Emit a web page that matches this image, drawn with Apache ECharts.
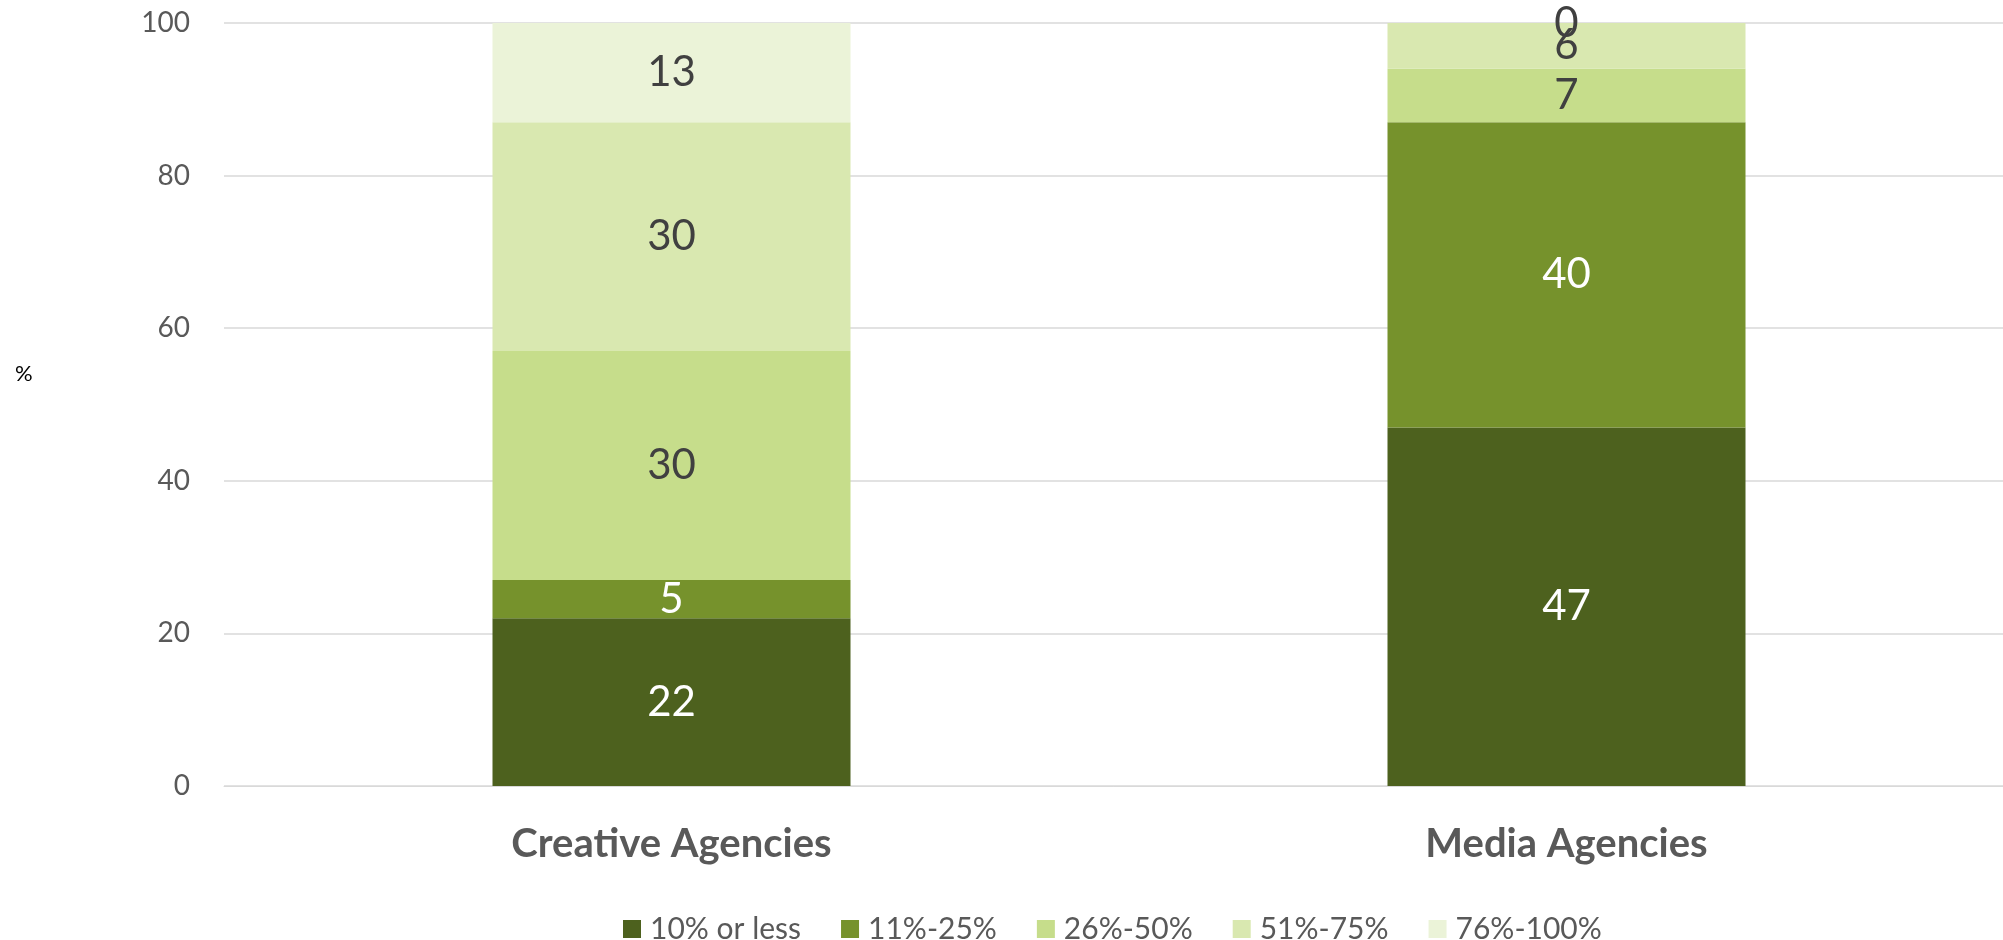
<!DOCTYPE html>
<html>
<head>
<meta charset="utf-8">
<script src="https://cdn.jsdelivr.net/npm/echarts@6/dist/echarts.min.js"></script>
<style>
  html, body { margin: 0; padding: 0; background: #fff; }
  #chart { width: 2003px; height: 940px; }
</style>
</head>
<body>
<div id="chart"></div>
<script>
// agencies on the x axis
const categories = ['Creative Agencies', 'Media Agencies']
// share bands, bottom to top
const bands = ['10% or less', '11%-25%', '26%-50%', '51%-75%', '76%-100%']
const tenOrLess = [22, 47]
const elevenTo25 = [5, 40]
const twentySixTo50 = [30, 7]
const fiftyOneTo75 = [30, 6]
const seventySixTo100 = [13, 0]
const yTicks = [0, 20, 40, 60, 80, 100]

const colors = ['#4d611e', '#76922c', '#c6dd8b', '#d9e8b0', '#ebf3d8']
const labelColors = ['#ffffff', '#ffffff', '#404040', '#404040', '#404040']
const values = [tenOrLess, elevenTo25, twentySixTo50, fiftyOneTo75, seventySixTo100]

const chart = echarts.init(document.getElementById('chart'))

chart.setOption({
  animation: false,
  textStyle: { fontFamily: 'Lato' },
  color: colors,
  grid: {
    left: 224,
    top: 23,
    width: 1790,
    height: 763,
    outerBoundsMode: 'none'
  },
  legend: {
    top: 909,
    left: 618,
    itemWidth: 18,
    itemHeight: 18,
    itemGap: 40,
    icon: 'rect',
    textStyle: { fontSize: 30, color: '#595959', fontFamily: 'Lato', padding: [0, 0, 0, 4] },
    data: bands
  },
  graphic: [{
    type: 'text',
    left: 15,
    top: 363,
    style: { text: '%', fontSize: 22, fill: '#000', fontFamily: 'Lato' }
  }],
  xAxis: {
    type: 'category',
    data: categories,
    axisTick: { show: false },
    axisLine: { lineStyle: { color: '#d9d9d9' } },
    axisLabel: {
      fontSize: 40,
      fontWeight: 'bold',
      color: '#595959',
      margin: 38
    }
  },
  yAxis: {
    type: 'value',
    min: 0,
    max: yTicks[yTicks.length - 1],
    interval: 20,
    axisLine: { show: false },
    axisTick: { show: false },
    axisLabel: { fontSize: 28, color: '#595959', margin: 34 },
    splitLine: { lineStyle: { color: '#d9d9d9', width: 1.5 } }
  },
  series: bands.map((name, i) => ({
    name: name,
    type: 'bar',
    stack: 'total',
    barWidth: '40%',
    data: values[i],
    itemStyle: { color: colors[i] },
    label: {
      show: true,
      position: 'inside',
      fontSize: 42,
      color: labelColors[i]
    }
  }))
})
</script>
</body>
</html>
